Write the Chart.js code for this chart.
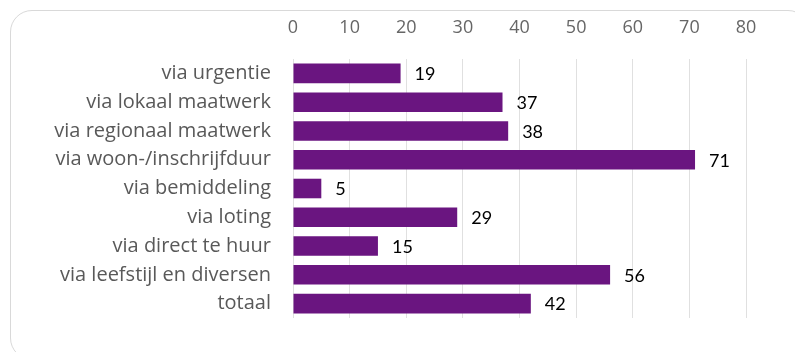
<!DOCTYPE html>
<html>
<head>
<meta charset="utf-8">
<script src="https://cdn.jsdelivr.net/npm/chart.js@4"></script>
<style>
    html, body { margin: 0; padding: 0; background: #fff; overflow: hidden; }
    #wrap { position: relative; width: 795px; height: 352px; overflow: hidden; }
    #frame {
        position: absolute; left: 10px; top: 10px; width: 800px; height: 350px;
        border: 1.5px solid #d9d9d9; border-radius: 22px; box-sizing: border-box;
    }
    canvas { position: absolute; left: 0; top: 0; }
</style>
</head>
<body>
<div id="wrap">
    <div id="frame"></div>
    <canvas id="chart" width="795" height="352"></canvas>
</div>
<script>
// Categories and values
const categories = [
    "via urgentie",
    "via lokaal maatwerk",
    "via regionaal maatwerk",
    "via woon-/inschrijfduur",
    "via bemiddeling",
    "via loting",
    "via direct te huur",
    "via leefstijl en diversen",
    "totaal"
];
const values = [19, 37, 38, 71, 5, 29, 15, 56, 42];
const tickValues = [0, 10, 20, 30, 40, 50, 60, 70, 80];

const barColor = "#6a1580";

// Draws the value next to the end of each bar
const valueLabels = {
    id: "valueLabels",
    afterDatasetsDraw(chart) {
        const ctx = chart.ctx;
        const meta = chart.getDatasetMeta(0);
        ctx.save();
        ctx.font = "18px Lato";
        ctx.fillStyle = "#000";
        ctx.textAlign = "left";
        ctx.textBaseline = "middle";
        meta.data.forEach((bar, i) => {
            ctx.fillText(String(values[i]), bar.x + 14, bar.y + 1);
        });
        ctx.restore();
    }
};

new Chart(document.getElementById("chart").getContext("2d"), {
    type: "bar",
    data: {
        labels: categories,
        datasets: [{
            data: values,
            backgroundColor: barColor,
            barPercentage: 0.68,
            categoryPercentage: 1.0
        }]
    },
    options: {
        indexAxis: "y",
        responsive: false,
        animation: false,
        layout: { padding: { left: 0, top: 0, right: 49, bottom: 29 } },
        plugins: {
            legend: { display: false },
            tooltip: { enabled: false }
        },
        scales: {
            x: {
                position: "top",
                min: 0,
                max: 80,
                afterBuildTicks(scale) {
                    scale.ticks = tickValues.map(v => ({ value: v }));
                },
                afterFit(scale) { scale.height = 59; },
                grid: { color: "#e0e0e0", lineWidth: 1, drawTicks: false },
                border: { display: false },
                ticks: {
                    color: "#666666",
                    font: { family: "Open Sans", size: 18 },
                    padding: 20
                }
            },
            y: {
                afterFit(scale) { scale.width = 293; },
                grid: { display: false, drawTicks: false },
                border: { display: false },
                ticks: {
                    color: "#595959",
                    font: { family: "Open Sans", size: 20 },
                    padding: 22
                }
            }
        }
    },
    plugins: [valueLabels]
});
</script>
</body>
</html>
